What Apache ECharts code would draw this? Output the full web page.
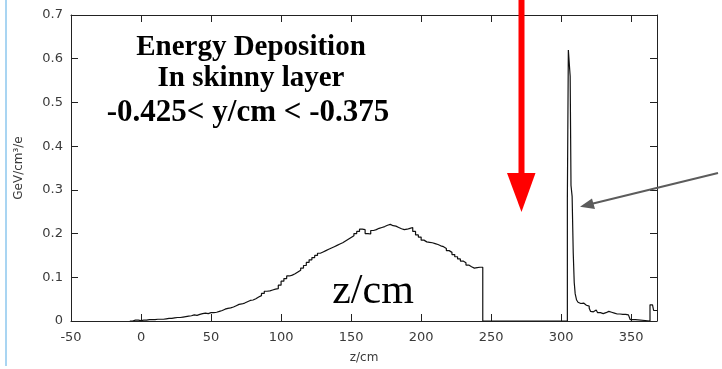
<!DOCTYPE html>
<html>
<head>
<meta charset="utf-8">
<script src="https://cdn.jsdelivr.net/npm/echarts@6/dist/echarts.min.js"></script>
<style>
  html, body { margin: 0; padding: 0; background: #ffffff; }
  #chart { width: 722px; height: 369px; }
</style>
</head>
<body>
<div id="chart"></div>
<script>
// Axis ranges and ticks
const zMin = -50, zMax = 368.4, zStep = 50;
const eMin = 0, eMax = 0.7, eStep = 0.1;

// Broad shower hump: 2 cm bins starting at humpStart (GeV/cm^3/e)
const humpStart = -6;
const humpWidth = 2;
const humpValues = [
  0.002, 0.002, 0.001,
  0.002, 0.002, 0.003, 0.003, 0.003, 0.004, 0.004,
  0.004, 0.005, 0.006, 0.006, 0.007, 0.008, 0.008, 0.009,
  0.010, 0.011, 0.012, 0.014, 0.013, 0.015, 0.017, 0.018, 0.017, 0.019,
  0.019, 0.020, 0.022, 0.024, 0.027, 0.029, 0.030, 0.032, 0.035, 0.038,
  0.039, 0.041, 0.044, 0.047, 0.048, 0.051, 0.055, 0.058, 0.063, 0.068,
  0.069, 0.071, 0.073, 0.074, 0.082,
  0.091, 0.097, 0.103, 0.105, 0.108, 0.112, 0.116, 0.121, 0.127, 0.134,
  0.140, 0.145, 0.150, 0.155, 0.158, 0.161, 0.164, 0.167, 0.170, 0.173,
  0.176, 0.179, 0.183, 0.187, 0.191, 0.195, 0.200, 0.205, 0.210, 0.209,
  0.200, 0.199, 0.207, 0.209, 0.212, 0.214, 0.216, 0.219, 0.221, 0.218,
  0.217, 0.214, 0.211, 0.209, 0.210, 0.212, 0.214, 0.205, 0.197, 0.192,
  0.185, 0.181, 0.180, 0.179, 0.177, 0.175, 0.172, 0.170, 0.166, 0.161,
  0.157, 0.152, 0.147, 0.142, 0.137, 0.133, 0.128, 0.124, 0.121, 0.122, 0.123, 0.123
];

// Sharp peak and tail: bin left edges (cm) and contents
const peakEdges = [
  304.4, 305.1, 306.4, 307.0, 307.8, 308.6, 309.3, 310.0, 311.0, 312.0,
  313.0, 314.0, 315.0, 316.0, 317.0, 318.0, 319.0, 320.0, 321.0, 322.0,
  323.0, 324.0, 325.0, 326.0, 327.0, 328.0, 329.0, 330.0, 331.0, 332.0,
  333.0, 334.0, 335.0, 336.0, 337.0, 338.0, 339.0, 340.0, 342.0, 344.0,
  346.0, 348.0, 349.3, 353.0, 363.4, 365.2, 366.0, 368.4
];
const peakValues = [
  0.280, 0.620, 0.560, 0.310, 0.285, 0.155, 0.088, 0.062, 0.048, 0.043,
  0.040, 0.038, 0.041, 0.037, 0.036, 0.038, 0.034, 0.029, 0.022, 0.021,
  0.024, 0.025, 0.021, 0.019, 0.019, 0.018, 0.017, 0.018, 0.019, 0.021,
  0.022, 0.021, 0.020, 0.020, 0.018, 0.017, 0.016, 0.016, 0.015, 0.015,
  0.014, 0.014, 0.003, 0.000, 0.037, 0.036, 0.024, 0.024
];

// Step-line points: each point holds its value until the next edge
const points = [[humpStart - 2, 0]];
humpValues.forEach((v, i) => points.push([humpStart + i * humpWidth, v]));
points.push([humpStart + humpValues.length * humpWidth, 0]);
peakEdges.forEach((z, i) => points.push([z, peakValues[i]]));

const frame = '#222222';
const labelColor = '#3a3a3a';
const sans = 'DejaVu Sans';
const titleFont = 'bold 29px "Liberation Serif", serif';

const chart = echarts.init(document.getElementById('chart'), null, { renderer: 'canvas' });

const xBase = {
  type: 'value', min: zMin, max: zMax, interval: zStep,
  splitLine: { show: false },
  axisLine: { show: true, onZero: false, lineStyle: { color: frame, width: 1 } },
  axisTick: { show: true, inside: true, length: 7, lineStyle: { color: frame } }
};
const yBase = {
  type: 'value', min: eMin, max: eMax, interval: eStep,
  splitLine: { show: false },
  axisLine: { show: true, onZero: false, lineStyle: { color: frame, width: 1 } },
  axisTick: { show: true, inside: true, length: 7, lineStyle: { color: frame } }
};

function label(text, x, y, font) {
  return { type: 'text', x: x, y: y, z: 10, silent: true,
    style: { text: text, fill: '#000', align: 'center', verticalAlign: 'middle', font: font } };
}

chart.setOption({
  animation: false,
  backgroundColor: '#ffffff',
  grid: { left: 71, right: 65, top: 15, bottom: 48, containLabel: false },
  xAxis: [
    Object.assign({}, xBase, {
      position: 'bottom',
      name: 'z/cm', nameLocation: 'middle', nameGap: 31,
      nameTextStyle: { color: labelColor, fontFamily: sans, fontSize: 12 },
      axisLabel: { color: labelColor, fontFamily: sans, fontSize: 13, margin: 10,
                   showMaxLabel: false }
    }),
    Object.assign({}, xBase, { position: 'top', axisLabel: { show: false } })
  ],
  yAxis: [
    Object.assign({}, yBase, {
      position: 'left',
      name: 'GeV/cm\u00B3/e', nameLocation: 'middle', nameGap: 46, nameRotate: 90,
      nameTextStyle: { color: labelColor, fontFamily: sans, fontSize: 12 },
      axisLabel: { color: labelColor, fontFamily: sans, fontSize: 13, margin: 8 }
    }),
    Object.assign({}, yBase, { position: 'right', axisLabel: { show: false } })
  ],
  series: [{
    type: 'line',
    xAxisIndex: 0, yAxisIndex: 0,
    step: 'end',
    data: points,
    showSymbol: false,
    symbol: 'none',
    lineStyle: { color: '#111111', width: 1.2 },
    z: 3
  }],
  graphic: [
    // slide edge
    { type: 'rect', shape: { x: 5, y: 0, width: 2, height: 366 },
      style: { fill: '#a9d5f2' }, silent: true },
    // red arrow
    { type: 'rect', shape: { x: 518.5, y: 0, width: 6, height: 175 },
      style: { fill: '#ff0000' }, silent: true, z: 10 },
    { type: 'polygon', shape: { points: [[507, 173], [535.5, 173], [521.5, 212]] },
      style: { fill: '#ff0000' }, silent: true, z: 10 },
    // grey arrow pointing at the peak
    { type: 'line', shape: { x1: 718, y1: 173, x2: 590, y2: 204.3 },
      style: { stroke: '#5c5c5c', lineWidth: 2 }, silent: true, z: 10 },
    { type: 'polygon', shape: { points: [[580, 206.7], [592, 198.5], [595, 209]] },
      style: { fill: '#5c5c5c' }, silent: true, z: 10 },
    // title block
    label('Energy Deposition', 251, 48, titleFont),
    label('In skinny layer', 251, 79, titleFont),
    label('-0.425< y/cm < -0.375', 248, 113, 'bold 31px "Liberation Serif", serif'),
    label('z/cm', 373, 292, '42px "Liberation Serif", serif')
  ]
});
</script>
</body>
</html>
